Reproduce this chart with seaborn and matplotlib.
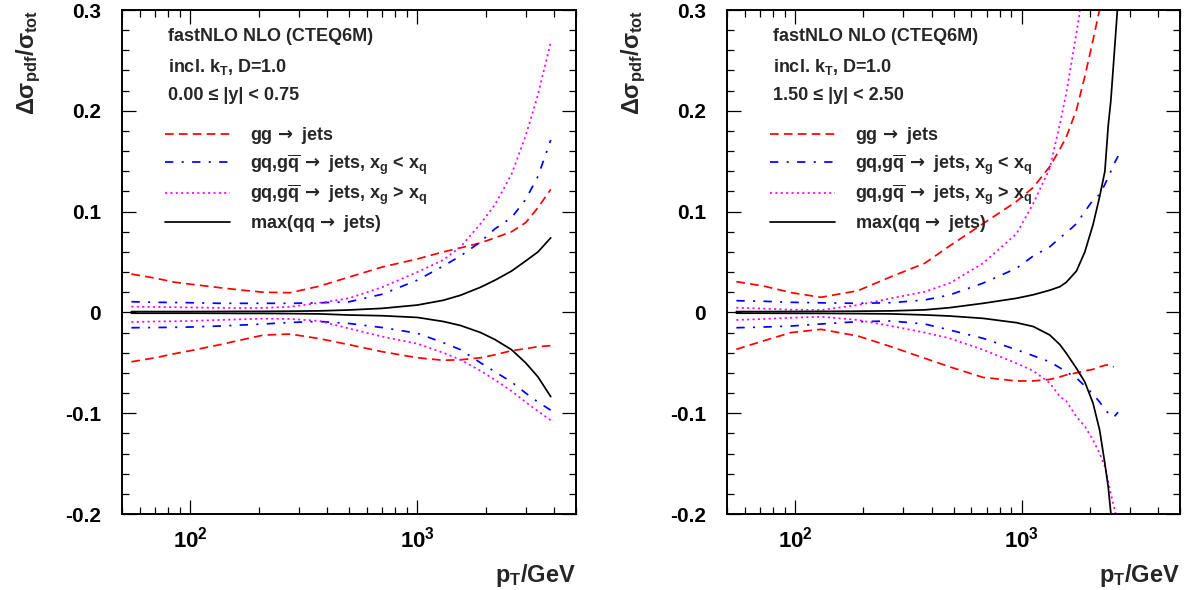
import numpy as np
import pandas as pd
import matplotlib
matplotlib.use("Agg")
import matplotlib.pyplot as plt
import seaborn as sns
from matplotlib.ticker import LogLocator, MultipleLocator, FuncFormatter, NullFormatter
from matplotlib.lines import Line2D

# ---------------- data ----------------
PROCS = ["gg", "gq_lt", "gq_gt", "qq"]
ARROW = r"$\,\mathsf{\rightarrow}$"
LABELS = ["gg" + ARROW + " jets",
          r"gq,g$\overline{\mathrm{q}}$" + ARROW + r" jets, x$_\mathrm{g}$ < x$_\mathrm{q}$",
          r"gq,g$\overline{\mathrm{q}}$" + ARROW + r" jets, x$_\mathrm{g}$ > x$_\mathrm{q}$",
          "max(qq" + ARROW + " jets)"]

# left panel: 0.00 <= |y| < 0.75
L_PT = [55, 70, 85, 100, 135, 170, 210, 275, 370, 500, 700, 1000, 1300, 1550, 1900, 2200, 2600, 3000, 3400, 3870]
L_GG_UP = [0.038, 0.034, 0.030, 0.028, 0.0245, 0.022, 0.020, 0.0195, 0.026, 0.035, 0.045, 0.053, 0.060, 0.064, 0.069, 0.074, 0.080, 0.089, 0.104, 0.122]
L_GG_LO = [-0.049, -0.045, -0.041, -0.038, -0.032, -0.027, -0.0225, -0.0215, -0.026, -0.032, -0.039, -0.045, -0.0475, -0.047, -0.045, -0.042, -0.038, -0.036, -0.034, -0.033]
L_GQLT_UP = [0.0106, 0.010, 0.0098, 0.0096, 0.009, 0.009, 0.009, 0.009, 0.0095, 0.0105, 0.018, 0.032, 0.046, 0.056, 0.070, 0.083, 0.094, 0.112, 0.135, 0.171]
L_GQLT_LO = [-0.0152, -0.015, -0.0148, -0.0145, -0.0135, -0.0125, -0.0115, -0.010, -0.009, -0.011, -0.015, -0.0207, -0.030, -0.037, -0.050, -0.059, -0.069, -0.080, -0.089, -0.097]
L_GQGT_UP = [0.0057, 0.0054, 0.0052, 0.0049, 0.0045, 0.0044, 0.0045, 0.0055, 0.0095, 0.014, 0.025, 0.040, 0.052, 0.065, 0.088, 0.107, 0.137, 0.175, 0.216, 0.268]
L_GQGT_LO = [-0.0095, -0.009, -0.0088, -0.0085, -0.0075, -0.0068, -0.0062, -0.0065, -0.0085, -0.016, -0.024, -0.031, -0.040, -0.047, -0.058, -0.067, -0.078, -0.089, -0.098, -0.107]
L_QQ_UP = [0.0008, 0.0008, 0.0008, 0.0008, 0.0009, 0.001, 0.001, 0.0012, 0.0015, 0.0024, 0.004, 0.0073, 0.012, 0.017, 0.025, 0.032, 0.041, 0.051, 0.060, 0.074]
L_QQ_LO = [-0.0008, -0.0008, -0.0008, -0.0008, -0.0009, -0.001, -0.001, -0.0012, -0.0015, -0.0026, -0.0033, -0.005, -0.009, -0.013, -0.020, -0.027, -0.037, -0.050, -0.064, -0.0836]

# right panel: 1.50 <= |y| < 2.50
R_PT = [55, 73, 96, 130, 189, 265, 373, 481, 675, 948, 1125, 1330, 1475, 1575, 1745, 1900, 2065, 2210, 2330, 2410, 2475, 2550, 2665]
R_GG_UP = [0.0305, 0.026, 0.0196, 0.015, 0.0215, 0.0354, 0.0487, 0.066, 0.088, 0.110, 0.124, 0.1446, 0.162, 0.174, 0.201, 0.234, 0.270, 0.301, 0.33, 0.35, 0.37, 0.39, np.nan]
R_GG_LO = [-0.0366, -0.028, -0.020, -0.0168, -0.0234, -0.034, -0.0455, -0.054, -0.0645, -0.068, -0.068, -0.0665, -0.064, -0.062, -0.060, -0.058, -0.0565, -0.054, -0.0525, -0.052, -0.053, -0.054, np.nan]
R_GQLT_UP = [0.0116, 0.011, 0.010, 0.0095, 0.009, 0.0096, 0.0123, 0.0173, 0.029, 0.0437, 0.056, 0.065, 0.074, 0.079, 0.088, 0.100, 0.1115, 0.117, 0.127, 0.134, 0.140, 0.147, 0.155]
R_GQLT_LO = [-0.0152, -0.0145, -0.0135, -0.0115, -0.0092, -0.0085, -0.0115, -0.0175, -0.0257, -0.037, -0.043, -0.049, -0.055, -0.059, -0.065, -0.073, -0.081, -0.089, -0.096, -0.100, -0.102, -0.104, -0.099]
R_GQGT_UP = [0.0047, 0.0037, 0.0027, 0.0024, 0.0073, 0.014, 0.0205, 0.029, 0.0487, 0.078, 0.108, 0.143, 0.187, 0.218, 0.277, 0.33, 0.39, np.nan, np.nan, np.nan, np.nan, np.nan, np.nan]
R_GQGT_LO = [-0.0075, -0.0065, -0.0053, -0.0043, -0.0075, -0.0135, -0.020, -0.0257, -0.037, -0.0505, -0.058, -0.070, -0.0836, -0.088, -0.1035, -0.113, -0.1266, -0.140, -0.153, -0.168, -0.180, -0.192, -0.21]
R_QQ_UP = [0.0008, 0.0008, 0.0009, 0.001, 0.0012, 0.0015, 0.0025, 0.0047, 0.009, 0.014, 0.0175, 0.022, 0.0255, 0.030, 0.041, 0.060, 0.087, 0.115, 0.140, 0.185, 0.21, 0.25, 0.31]
R_QQ_LO = [-0.0008, -0.0008, -0.0009, -0.001, -0.0012, -0.0015, -0.0025, -0.0036, -0.0059, -0.0102, -0.014, -0.0224, -0.032, -0.0406, -0.0555, -0.069, -0.090, -0.117, -0.150, -0.173, -0.199, -0.23, np.nan]

PANEL_TEXT_L = ["fastNLO NLO (CTEQ6M)", r"incl. k$_\mathrm{T}$, D=1.0", "0.00 \u2264 |y| < 0.75"]
PANEL_TEXT_R = ["fastNLO NLO (CTEQ6M)", r"incl. k$_\mathrm{T}$, D=1.0", "1.50 \u2264 |y| < 2.50"]
YTICKS = [-0.2, -0.1, 0.0, 0.1, 0.2, 0.3]

# ---------------- style ----------------
PALETTE = {"gg": "#ff0000", "gq_lt": "#0000ff", "gq_gt": "#ff00ff", "qq": "#000000"}
DASHES = {"gg": (5.0, 3.0), "gq_lt": (4.8, 4.8, 1.2, 4.8), "gq_gt": (1.2, 1.9), "qq": ""}
LW = 1.25

sns.set_theme(style="white")
plt.rcParams.update({
    "font.family": ["Liberation Sans", "DejaVu Sans"],
    "font.weight": "bold",
    "axes.labelweight": "bold",
    "mathtext.fontset": "custom",
    "mathtext.rm": "Liberation Sans:bold",
    "mathtext.it": "Liberation Sans:bold",
    "mathtext.bf": "Liberation Sans:bold",
    "mathtext.sf": "DejaVu Sans",
    "axes.unicode_minus": False,
    "axes.linewidth": 1.4,
    "axes.edgecolor": "black",
})


def long_frame(pt, series):
    rows = []
    for proc, (up, lo) in series.items():
        for band, vals in (("up", up), ("lo", lo)):
            for p, v in zip(pt, vals):
                rows.append({"pt": p, "val": v, "process": proc, "band": band})
    df = pd.DataFrame(rows)
    return df.dropna()


df_left = long_frame(L_PT, {"gg": (L_GG_UP, L_GG_LO), "gq_lt": (L_GQLT_UP, L_GQLT_LO),
                            "gq_gt": (L_GQGT_UP, L_GQGT_LO), "qq": (L_QQ_UP, L_QQ_LO)})
df_right = long_frame(R_PT, {"gg": (R_GG_UP, R_GG_LO), "gq_lt": (R_GQLT_UP, R_GQLT_LO),
                             "gq_gt": (R_GQGT_UP, R_GQGT_LO), "qq": (R_QQ_UP, R_QQ_LO)})

fig = plt.figure(figsize=(11.89, 5.90), dpi=100)
ax1 = fig.add_axes([122 / 1189, 1 - 514 / 590, 454 / 1189, 504 / 590])
ax2 = fig.add_axes([727 / 1189, 1 - 514 / 590, 453 / 1189, 504 / 590])


def yfmt(v, pos):
    if abs(v) < 1e-9:
        return "0"
    return f"{v:.1f}"


for ax, df, texts in ((ax1, df_left, PANEL_TEXT_L), (ax2, df_right, PANEL_TEXT_R)):
    ax.set_xscale("log")
    sns.lineplot(data=df, x="pt", y="val", hue="process", style="process", units="band",
                 estimator=None, hue_order=PROCS, style_order=PROCS, palette=PALETTE,
                 dashes=DASHES, linewidth=LW, legend=False, sort=True, ax=ax)
    ax.set_xlim(50, 5000)
    ax.set_ylim(-0.2, 0.3)
    ax.xaxis.set_major_locator(LogLocator(base=10))
    ax.xaxis.set_minor_locator(LogLocator(base=10, subs=np.arange(2, 10)))
    ax.xaxis.set_minor_formatter(NullFormatter())
    ax.set_yticks(YTICKS)
    ax.yaxis.set_minor_locator(MultipleLocator(0.02))
    ax.yaxis.set_major_formatter(FuncFormatter(yfmt))
    ax.tick_params(which="both", direction="in", bottom=True, left=True, top=True, right=True,
                   width=0.9, colors="black")
    ax.tick_params(which="major", length=10)
    ax.tick_params(which="minor", length=5)
    ax.tick_params(axis="y", pad=15, labelsize=15)
    ax.tick_params(axis="x", pad=9, labelsize=16)
    for t in ax.get_xticklabels() + ax.get_yticklabels():
        t.set_fontweight("bold")
    for s in ax.spines.values():
        s.set_visible(True)
        s.set_color("black")
        s.set_linewidth(1.4)

    ax.set_ylabel(r"$\Delta\sigma_{pdf}/\sigma_{tot}$", fontsize=17, loc="top")
    ax.yaxis.set_label_coords(-0.175, 1.0)
    ax.set_xlabel(r"p$_\mathrm{T}$/GeV", fontsize=17, fontweight="bold", loc="right")
    ax.xaxis.set_label_coords(1.0, -0.095)

    for txt, yy in zip(texts, (0.948, 0.887, 0.831)):
        ax.text(0.101, yy, txt, transform=ax.transAxes, va="center", ha="left",
                fontsize=13, fontweight="bold")

    handles = []
    for p in PROCS:
        if DASHES[p] == "":
            h = Line2D([], [], color=PALETTE[p], lw=LW, linestyle="-")
        else:
            h = Line2D([], [], color=PALETTE[p], lw=LW, dashes=DASHES[p])
        handles.append(h)
    leg = ax.legend(handles, LABELS, loc="upper left", bbox_to_anchor=(0.095, 0.772),
                    frameon=False, prop={"size": 13, "weight": "bold"}, handlelength=3.6,
                    handletextpad=1.1, labelspacing=0.33, borderpad=0, borderaxespad=0)

fig.savefig("out.png", dpi=100, facecolor="white")
